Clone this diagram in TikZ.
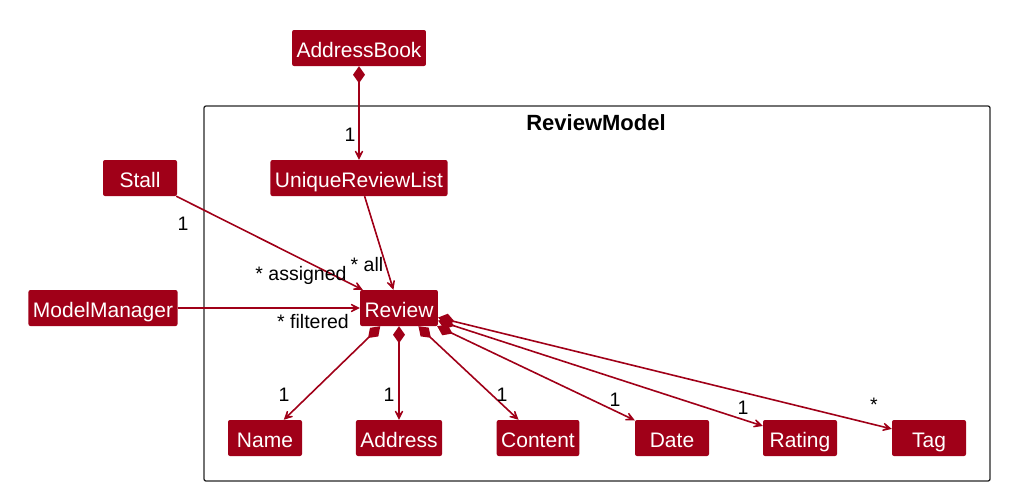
\documentclass[tikz,border=0pt]{standalone}
\usepackage{fontspec}
\setmainfont{Liberation Sans}
\usetikzlibrary{arrows.meta}
\definecolor{umlred}{RGB}{160,0,24}

\tikzset{
  cls/.style={fill=umlred, rounded corners=2pt, text=white,
    font=\fontsize{21}{25}\selectfont, minimum height=36pt, minimum width=74pt,
    inner xsep=4.5pt, text height=18pt, text depth=0pt},
  lbl/.style={font=\fontsize{19.5}{23}\selectfont, inner sep=0pt},
  link/.style={draw=umlred, line width=1.6pt,
    -{Stealth[length=14pt, width=14pt, inset=9pt]}},
  part/.style={link, {Diamond[length=17pt, width=12pt]}-{Stealth[length=14pt, width=14pt, inset=9pt]}}
}

\begin{document}
\begin{tikzpicture}[x=1pt, y=-1pt]
  \useasboundingbox (0,0) rectangle (1032,501);
  % package frame
  \draw[line width=1.3pt, draw=black!85, rounded corners=2pt] (204,106) rectangle (990,481);
  \node[font=\bfseries\fontsize{22}{26}\selectfont] (pkg) at (596,123) {ReviewModel};
  % classes
  \node[cls] (addressbook) at (359,48) {AddressBook};
  \node[cls] (uniquelist) at (359,178) {UniqueReviewList};
  \node[cls] (stall) at (140,178) {Stall};
  \node[cls] (manager) at (103,308) {ModelManager};
  \node[cls] (review) at (399,308) {Review};
  \node[cls] (name) at (265,438) {Name};
  \node[cls] (address) at (399,438) {Address};
  \node[cls] (content) at (538,438) {Content};
  \node[cls] (date) at (672,438) {Date};
  \node[cls] (rating) at (800,438) {Rating};
  \node[cls] (tag) at (929,438) {Tag};
  % associations
  \draw[part] (addressbook) -- (uniquelist);
  \draw[link] (stall) -- (review);
  \draw[link] (uniquelist) -- (review);
  \draw[link] (manager) -- (review);
  \draw[part] (review) -- (name);
  \draw[part] (review) -- (address);
  \draw[part] (review) -- (content);
  \draw[part] (review) -- (date);
  \draw[part] (review) -- (rating);
  \draw[part] (review) -- (tag);
  % multiplicities
  \node[lbl] (m-list) at (350,135) {1};
  \node[lbl] (m-stall) at (183,224) {1};
  \node[lbl] (m-assigned) at (301,275) {* assigned};
  \node[lbl] (m-all) at (367,265) {* all};
  \node[lbl] (m-filtered) at (313,322) {* filtered};
  \node[lbl] (m-name) at (284,395) {1};
  \node[lbl] (m-address) at (389,395) {1};
  \node[lbl] (m-content) at (502,395) {1};
  \node[lbl] (m-date) at (615,400) {1};
  \node[lbl] (m-rating) at (743,408) {1};
  \node[lbl] (m-tag) at (874,405) {*};
\end{tikzpicture}
\end{document}
